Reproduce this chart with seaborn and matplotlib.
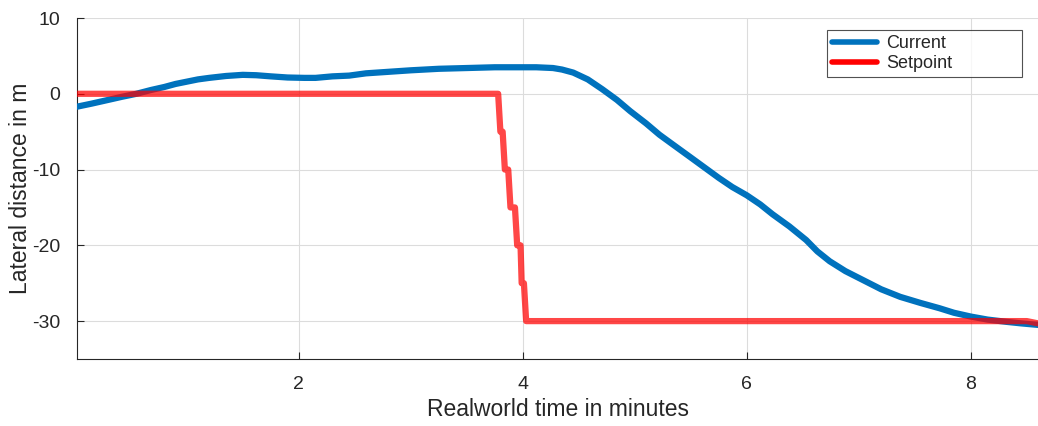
import pandas as pd
import matplotlib.pyplot as plt
import seaborn as sns

# current lateral position
cur_t = [0.02, 0.15, 0.3, 0.42, 0.55, 0.68, 0.8, 0.9, 1.0, 1.1, 1.2, 1.35, 1.5, 1.62,
         1.75, 1.9, 2.05, 2.15, 2.3, 2.45, 2.6, 2.8, 3.0, 3.25, 3.5, 3.75, 3.97, 4.12,
         4.27, 4.35, 4.45, 4.58, 4.71, 4.84, 4.96, 5.1, 5.22, 5.35, 5.49, 5.62, 5.75,
         5.87, 6.0, 6.12, 6.23, 6.38, 6.53, 6.63, 6.74, 6.88, 7.04, 7.2, 7.37, 7.55,
         7.72, 7.85, 8.0, 8.15, 8.32, 8.45, 8.6]
cur_y = [-1.7, -1.3, -0.8, -0.4, 0.0, 0.5, 0.9, 1.3, 1.6, 1.9, 2.1, 2.35, 2.5, 2.45,
         2.3, 2.15, 2.1, 2.1, 2.3, 2.4, 2.7, 2.9, 3.1, 3.3, 3.4, 3.5, 3.5, 3.5,
         3.4, 3.2, 2.8, 1.9, 0.6, -0.8, -2.3, -3.9, -5.4, -6.8, -8.3, -9.7, -11.1,
         -12.3, -13.4, -14.6, -15.9, -17.5, -19.3, -20.8, -22.1, -23.4, -24.6, -25.8, -26.8, -27.6,
         -28.3, -28.9, -29.4, -29.8, -30.1, -30.3, -30.5]

# setpoint steps
set_t = [0.02, 3.78, 3.80, 3.82, 3.84, 3.87, 3.89, 3.93, 3.95, 3.98, 3.99, 4.01, 4.03, 8.5, 8.6]
set_y = [0, 0, -5, -5, -10, -10, -15, -15, -20, -20, -25, -25, -30, -30, -30.3]

sns.set_style("white")
plt.rcParams['font.family'] = ['Liberation Sans', 'DejaVu Sans']
plt.rcParams['axes.unicode_minus'] = False

fig = plt.figure(figsize=(10.38, 4.26), dpi=100)
ax = fig.add_axes([0.0742, 0.1573, 0.9258, 0.8004])

cur = pd.DataFrame({"t": cur_t, "y": cur_y})
sp = pd.DataFrame({"t": set_t, "y": set_y})

sns.lineplot(data=cur, x="t", y="y", ax=ax, color="#0072BD", linewidth=4.5,
             label="Current", estimator=None, sort=False, zorder=3)
sns.lineplot(data=sp, x="t", y="y", ax=ax, color="#FF0000", linewidth=4.5, alpha=0.72,
             label="Setpoint", estimator=None, sort=False, zorder=4)

ax.set_xlim(0.02, 8.6)
ax.set_ylim(-35, 10)
ax.set_xticks([2, 4, 6, 8])
ax.set_yticks([-30, -20, -10, 0, 10])
ax.grid(True, color="#dcdcdc", linewidth=0.8)
ax.set_axisbelow(True)
for s in ["top", "right"]:
    ax.spines[s].set_visible(False)
for s in ["left", "bottom"]:
    ax.spines[s].set_color("#262626")
    ax.spines[s].set_linewidth(0.8)
ax.tick_params(direction="in", length=5, colors="#262626", labelsize=14, width=0.8,
               left=True, bottom=True, pad=12)
ax.set_xlabel("Realworld time in minutes", fontsize=16.5, color="#262626", labelpad=4)
ax.set_ylabel("Lateral distance in m", fontsize=16.5, color="#262626", labelpad=0)

leg = ax.legend(loc="upper left", bbox_to_anchor=(0.780, 0.824, 0.203, 0.141),
                mode="expand", fontsize=13, frameon=True, fancybox=False,
                edgecolor="#262626", handlelength=2.5, handletextpad=0.5,
                borderpad=0.3, labelspacing=0.15, borderaxespad=0)
leg.get_frame().set_linewidth(0.8)
for h in leg.get_lines():
    h.set_linewidth(4)
    h.set_alpha(1)

fig.savefig("out.png", dpi=100)
